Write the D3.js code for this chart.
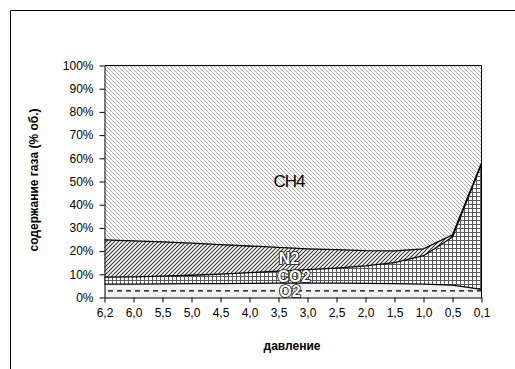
<!DOCTYPE html>
<html>
<head>
<meta charset="utf-8">
<script src="https://cdn.jsdelivr.net/npm/d3@7"></script>
<style>
  html, body { margin: 0; padding: 0; background: #fff; }
  svg { display: block; font-family: "Liberation Sans", Arial, sans-serif; }
</style>
</head>
<body>
<svg id="chart" width="515" height="369"></svg>
<script>
// Pressure steps (decreasing) and gas composition, % by volume
const categories = ["6,2","6,0","5,5","5,0","4,5","4,0","3,5","3,0","2,5","2,0","1,5","1,0","0,5","0,1"];
const o2  = [5.8, 5.8, 5.9, 6.0, 6.0, 6.1, 6.2, 6.2, 6.2, 6.1, 6.0, 5.8, 5.3, 3.5];
const co2 = [3.0, 3.1, 3.3, 3.6, 4.1, 4.6, 5.2, 5.8, 6.5, 7.5, 9.0, 12.2, 20.7, 54.0];
const n2  = [16.0, 15.5, 14.8, 13.8, 12.7, 11.5, 10.2, 9.0, 7.9, 6.6, 5.1, 3.0, 1.0, 0.5];
const ch4 = [75.2, 75.6, 76.0, 76.6, 77.2, 77.8, 78.4, 79.0, 79.4, 79.8, 79.9, 79.0, 73.0, 42.0];
const seriesNames = ["O2", "CO2", "N2", "CH4"];
const yTickValues = [0, 10, 20, 30, 40, 50, 60, 70, 80, 90, 100];
const xTitle = "давление";
const yTitle = "содержание газа (% об.)";

const rows = categories.map((c, i) => ({ cat: c, O2: o2[i], CO2: co2[i], N2: n2[i], CH4: ch4[i] }));
const stacked = d3.stack().keys(seriesNames)(rows);

const svg = d3.select("#chart");
const plot = { left: 104.5, right: 481.5, top: 65.5, bottom: 297.5 };

const x = d3.scalePoint().domain(categories).range([plot.left, plot.right]).padding(0);
const y = d3.scaleLinear().domain([0, 100]).range([plot.bottom, plot.top]);

// Fill patterns
const defs = svg.append("defs");

// O2: light grey with dashed horizontal lines
const pO2 = defs.append("pattern").attr("id", "pat-o2")
  .attr("patternUnits", "userSpaceOnUse").attr("width", 9).attr("height", 16).attr("y", 288);
pO2.append("rect").attr("width", 9).attr("height", 16).attr("fill", "#f1f1f1");
pO2.append("rect").attr("x", 0).attr("y", 2).attr("width", 5).attr("height", 1.6).attr("fill", "#333");

// CO2: square grid
const pCO2 = defs.append("pattern").attr("id", "pat-co2")
  .attr("patternUnits", "userSpaceOnUse").attr("width", 4).attr("height", 4);
pCO2.append("rect").attr("width", 4).attr("height", 4).attr("fill", "#fff");
pCO2.append("path").attr("d", "M0,0.5H4M0.5,0V4").attr("stroke", "#5a5a5a").attr("stroke-width", 1).attr("fill", "none");

// N2: dark upward diagonal
const pN2 = defs.append("pattern").attr("id", "pat-n2")
  .attr("patternUnits", "userSpaceOnUse").attr("width", 4).attr("height", 4);
pN2.append("rect").attr("width", 4).attr("height", 4).attr("fill", "#fff");
pN2.append("path").attr("d", "M-1,5L5,-1M-1,1L1,-1M3,5L5,3").attr("stroke", "#333").attr("stroke-width", 1.1);

// CH4: light downward diagonal
const pCH4 = defs.append("pattern").attr("id", "pat-ch4")
  .attr("patternUnits", "userSpaceOnUse").attr("width", 4).attr("height", 4);
pCH4.append("rect").attr("width", 4).attr("height", 4).attr("fill", "#fff");
pCH4.append("path").attr("d", "M-1,-1L5,5M-1,3L1,5M3,-1L5,1").attr("stroke", "#a0a0a0").attr("stroke-width", 0.9);

const fills = { O2: "url(#pat-o2)", CO2: "url(#pat-co2)", N2: "url(#pat-n2)", CH4: "url(#pat-ch4)" };

// Chart frame
svg.append("path").attr("d", "M10.5,369V10.5H515").attr("fill", "none").attr("stroke", "#000").attr("stroke-width", 1);

// Stacked areas
const area = d3.area()
  .x(d => x(d.data.cat))
  .y0(d => y(d[0]))
  .y1(d => y(d[1]));

svg.append("g").selectAll("path").data(stacked).join("path")
  .attr("d", area)
  .attr("fill", s => fills[s.key]);

// Layer boundary lines
const topLine = d3.line().x(d => x(d.data.cat)).y(d => y(d[1]));
svg.append("g").selectAll("path").data(stacked.filter(s => s.key !== "CH4")).join("path")
  .attr("d", topLine)
  .attr("fill", "none")
  .attr("stroke", "#000")
  .attr("stroke-width", 1.3);

// Plot border (top and right)
svg.append("path")
  .attr("d", `M${plot.left},${plot.top}H${plot.right}V${plot.bottom}`)
  .attr("fill", "none").attr("stroke", "#000").attr("stroke-width", 1);

// Axes
const yAxis = d3.axisLeft(y).tickValues(yTickValues).tickFormat(d => d + "%")
  .tickSize(5).tickSizeOuter(0).tickPadding(6);
const gy = svg.append("g").attr("transform", `translate(${plot.left},0)`).call(yAxis);

const xAxis = d3.axisBottom(x).tickSize(5).tickSizeOuter(0).tickPadding(6);
const gx = svg.append("g").attr("transform", `translate(0,${plot.bottom})`).call(xAxis);

[gx, gy].forEach(g => {
  g.selectAll("text").attr("font-size", 12).attr("fill", "#000")
    .attr("font-family", '"Liberation Sans", Arial, sans-serif');
  g.selectAll("line").attr("stroke", "#000");
  g.select(".domain").attr("stroke", "#000");
});

// Axis titles
svg.append("text")
  .attr("x", 292).attr("y", 350)
  .attr("text-anchor", "middle")
  .attr("font-size", 12).attr("font-weight", "bold")
  .text(xTitle);

svg.append("text")
  .attr("transform", "translate(38,180) rotate(-90)")
  .attr("text-anchor", "middle")
  .attr("font-size", 12).attr("font-weight", "bold")
  .text(yTitle);

// Series labels inside the areas
const labelX = (x("3,5") + x("3,0")) / 2 - 4;
svg.append("text")
  .attr("x", labelX).attr("y", y(47.5))
  .attr("text-anchor", "middle")
  .attr("font-size", 17)
  .attr("letter-spacing", -1)
  .attr("fill", "#000")
  .text("CH4");

const outlined = [
  { name: "N2",  v: 14.6, dx: 0 },
  { name: "CO2", v: 6.8,  dx: 5 },
  { name: "O2",  v: 0.3,  dx: 1 }
];
svg.append("g").selectAll("text").data(outlined).join("text")
  .attr("x", d => labelX + d.dx).attr("y", d => y(d.v))
  .attr("text-anchor", "middle")
  .attr("font-size", 16)
  .attr("font-weight", "bold")
  .attr("fill", "#fff")
  .attr("stroke", "#111")
  .attr("stroke-width", 1.7)
  .attr("stroke-linejoin", "round")
  .attr("paint-order", "stroke")
  .text(d => d.name);
</script>
</body>
</html>
